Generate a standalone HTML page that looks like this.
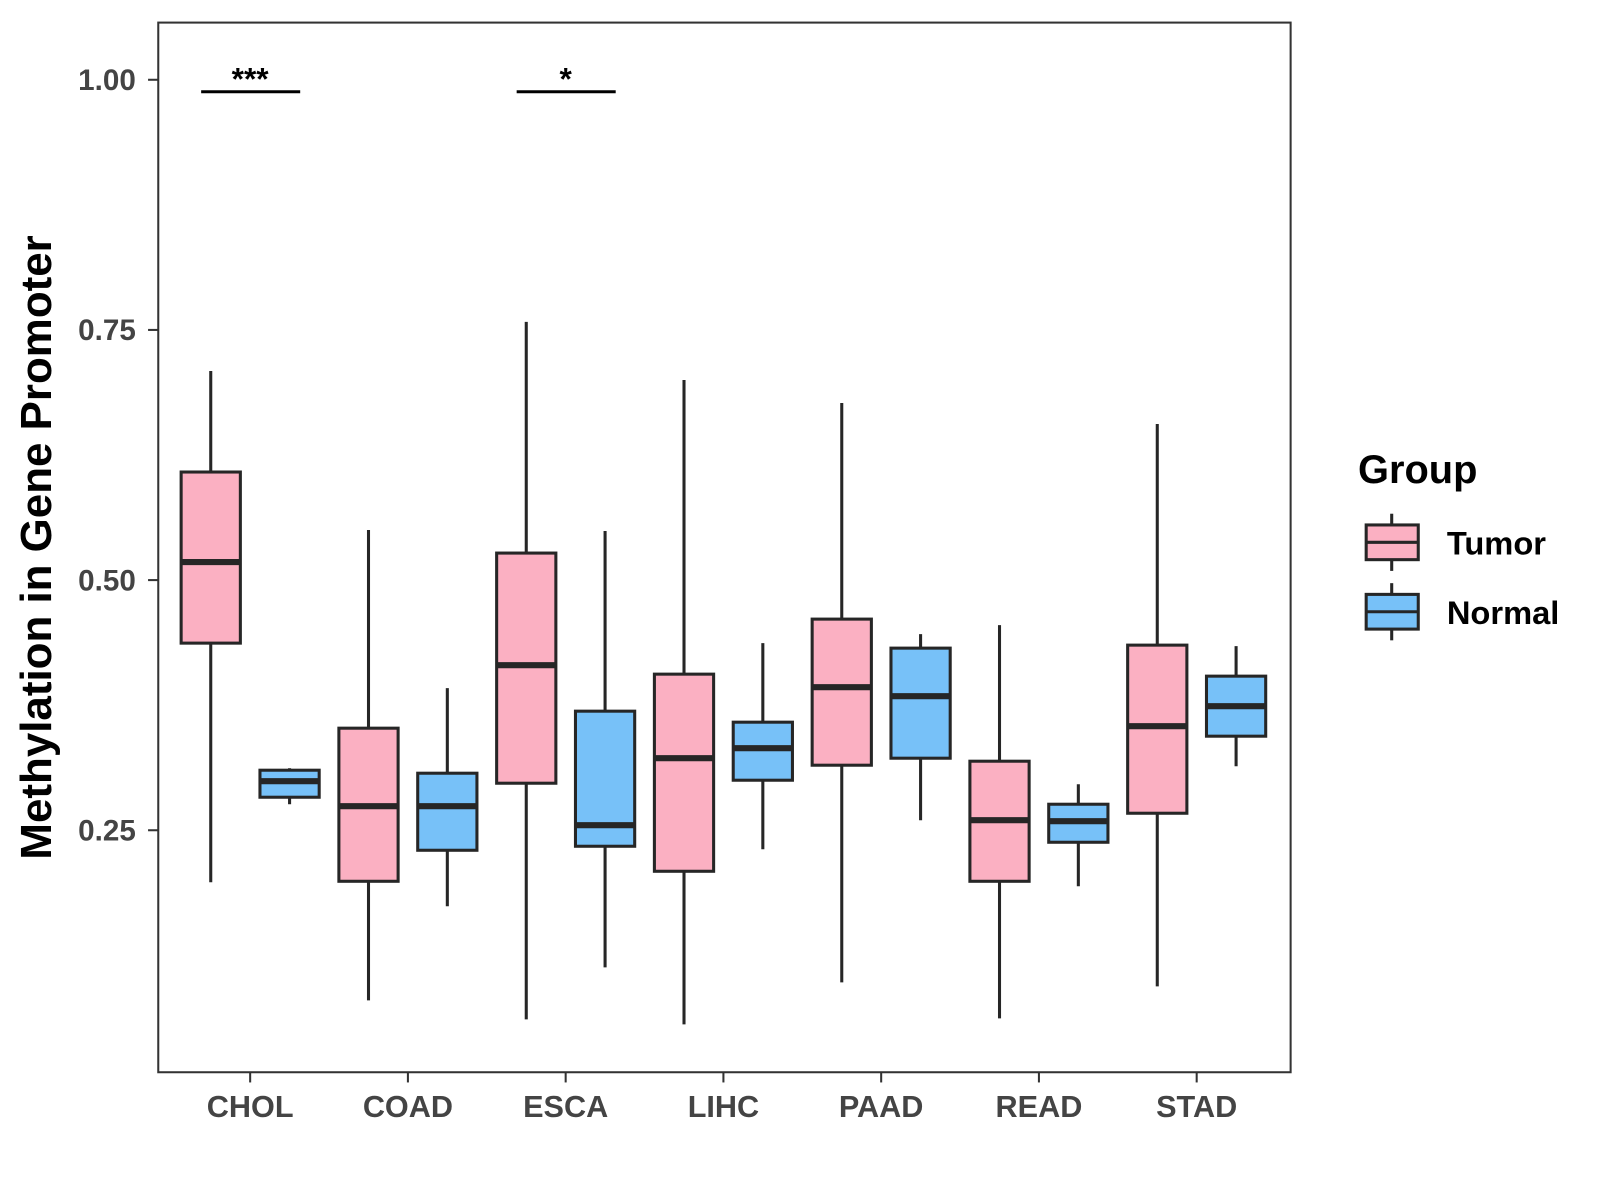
<!DOCTYPE html>
<html><head><meta charset="utf-8"><style>
html,body{margin:0;padding:0;background:#fff;}
svg{display:block;font-family:"Liberation Sans",Arial,sans-serif;}
</style></head><body>
<svg id="chart" width="1600" height="1200" viewBox="0 0 1567 1175">
<rect x="155" y="22" width="1109" height="1028" fill="#fff" stroke="#333" stroke-width="2"/>
<g id="marks"></g>
<g id="axes"></g>
<text transform="translate(50,536) rotate(-90)" text-anchor="middle" font-size="43" font-weight="bold" fill="#000">Methylation in Gene Promoter</text>
<g>
<text x="1330" y="473" font-size="39" font-weight="bold" fill="#000">Group</text>
<g>
<line x1="1363" y1="503" x2="1363" y2="559" stroke="#262626" stroke-width="3"/>
<rect x="1338" y="514" width="51" height="34" fill="#FBB0C2" stroke="#262626" stroke-width="3"/>
<line x1="1338" y1="531" x2="1389" y2="531" stroke="#262626" stroke-width="3"/>
<text x="1417" y="543" font-size="32" font-weight="bold" fill="#000">Tumor</text>
</g>
<g>
<line x1="1363" y1="571" x2="1363" y2="627" stroke="#262626" stroke-width="3"/>
<rect x="1338" y="582" width="51" height="34" fill="#77C1F8" stroke="#262626" stroke-width="3"/>
<line x1="1338" y1="599" x2="1389" y2="599" stroke="#262626" stroke-width="3"/>
<text x="1417" y="611" font-size="32" font-weight="bold" fill="#000">Normal</text>
</g>
</g>
</svg>
<script>
const categories=["CHOL","COAD","ESCA","LIHC","PAAD","READ","STAD"];
const tumorMin=[0.198,0.080,0.061,0.056,0.098,0.062,0.094];
const tumorQ1=[0.437,0.199,0.297,0.209,0.315,0.199,0.267];
const tumorMed=[0.518,0.274,0.415,0.322,0.393,0.260,0.354];
const tumorQ3=[0.608,0.352,0.527,0.406,0.461,0.319,0.435];
const tumorMax=[0.709,0.550,0.758,0.700,0.677,0.455,0.656];
const normalMin=[0.276,0.174,0.113,0.231,0.260,0.194,0.314];
const normalQ1=[0.283,0.230,0.234,0.300,0.322,0.238,0.344];
const normalMed=[0.299,0.274,0.255,0.332,0.384,0.259,0.374];
const normalQ3=[0.310,0.307,0.369,0.358,0.432,0.276,0.404];
const normalMax=[0.312,0.392,0.549,0.437,0.446,0.296,0.434];
const yTicks=[0.25,0.5,0.75,1.0];
const yTickLabels=["0.25","0.50","0.75","1.00"];
const sigCategories=["CHOL","ESCA"];
const sigLabels=["***","*"];
const sigLevel=[0.988];

const NS="http://www.w3.org/2000/svg";
const y=v=>78+(1-v)*980;
const x=i=>245+i*154.5;
const marks=document.getElementById('marks');
const axes=document.getElementById('axes');
function mk(tag,attrs,parent){const e=document.createElementNS(NS,tag);for(const k in attrs)e.setAttribute(k,attrs[k]);parent.appendChild(e);return e;}

function drawBox(cx,mn,q1,md,q3,mx,fill,name){
  const g=mk('g',{},marks);
  
  
  mk('line',{x1:cx,x2:cx,y1:y(mx),y2:y(mn),stroke:'#262626','stroke-width':3},g);
  mk('rect',{x:cx-29,y:y(q3),width:58,height:y(q1)-y(q3),fill:fill,stroke:'#262626','stroke-width':3},g);
  mk('line',{x1:cx-29,x2:cx+29,y1:y(md),y2:y(md),stroke:'#262626','stroke-width':6},g);
}
categories.forEach((c,i)=>{
  drawBox(x(i)-38.6,tumorMin[i],tumorQ1[i],tumorMed[i],tumorQ3[i],tumorMax[i],'#FBB0C2','box-tumor-'+c.toLowerCase());
  drawBox(x(i)+38.6,normalMin[i],normalQ1[i],normalMed[i],normalQ3[i],normalMax[i],'#77C1F8','box-normal-'+c.toLowerCase());
  const t=mk('line',{x1:x(i),x2:x(i),y1:1050,y2:1060,stroke:'#333','stroke-width':2},axes);
  
  
  const l=mk('text',{x:x(i),y:1094,'text-anchor':'middle','font-size':30,'font-weight':'bold',fill:'#444'},axes);
  l.textContent=c;
  
  
});
yTicks.forEach((v,i)=>{
  const t=mk('line',{x1:145,x2:155,y1:y(v),y2:y(v),stroke:'#333','stroke-width':2},axes);
  
  
  const l=mk('text',{x:133,y:y(v)+10,'text-anchor':'end','font-size':29,'font-weight':'bold',fill:'#444'},axes);
  l.textContent=yTickLabels[i];
  
  
});
sigCategories.forEach((c,k)=>{
  const i=categories.indexOf(c);
  const g=mk('g',{},marks);
  
  
  mk('line',{x1:x(i)-48,x2:x(i)+49,y1:y(sigLevel[0]),y2:y(sigLevel[0]),stroke:'#000','stroke-width':3},g);
  const t=mk('text',{x:x(i),y:y(sigLevel[0])-2,'text-anchor':'middle','font-size':31,'font-weight':'bold',fill:'#000'},g);
  t.textContent=sigLabels[k];
});
</script>
</body></html>
